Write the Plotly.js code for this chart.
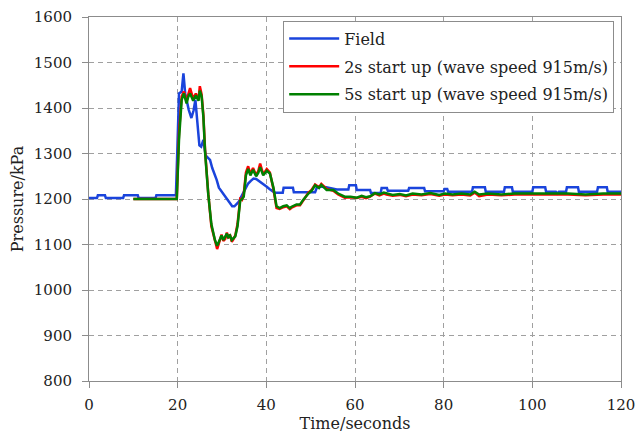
<!DOCTYPE html>
<html>
<head>
<meta charset="utf-8">
<script src="https://cdn.plot.ly/plotly-3.0.1.min.js"></script>
<style>html,body{margin:0;padding:0;background:#fff;}#chart{width:636px;height:437px;}</style>
</head>
<body>
<div id="chart"></div>
<script>
// Field (measured) pressure
const fieldTime = [0,1.8,2.0,3.6,3.8,7.7,7.9,11.0,11.2,15.0,
  15.2,19.6,19.9,20.3,20.9,21.3,21.7,22.1,22.5,23.1,
  23.6,24.0,24.5,24.9,25.3,25.8,26.3,26.8,27.3,27.8,
  28.3,28.8,29.3,29.8,30.3,30.8,31.3,31.8,32.3,32.8,
  33.3,33.8,34.3,34.8,35.3,35.9,36.5,37.1,37.7,38.3,
  38.9,39.5,40.1,40.7,41.3,41.9,43.7,43.9,46.0,46.2,
  51.0,51.5,53.5,55.9,58.5,58.7,60.2,60.4,63.4,63.6,
  65.8,66.0,67.2,67.4,72.0,72.2,75.6,75.8,80.0,80.2,
  80.8,81.0,86.4,86.6,89.3,89.5,93.6,93.8,95.4,95.6,
  100.0,100.2,102.9,103.1,105.3,105.6,106.0,107.6,107.8,110.3,
  110.5,114.6,114.8,116.8,117.0,120.0];
const fieldP = [1202,1202,1208,1208,1202,1202,1208,1208,1202,1202,
  1208,1208,1300,1432,1436,1476,1432,1415,1396,1378,
  1395,1418,1370,1318,1315,1330,1296,1290,1286,1268,
  1256,1242,1225,1218,1212,1204,1196,1190,1184,1184,
  1190,1194,1204,1213,1224,1234,1240,1245,1244,1240,
  1236,1232,1227,1222,1218,1214,1214,1225,1225,1215,
  1215,1228,1226,1221,1221,1230,1230,1220,1220,1213,
  1213,1224,1224,1218,1218,1224,1224,1217,1217,1222,
  1222,1216,1216,1226,1226,1216,1216,1226,1226,1216,
  1216,1226,1226,1216,1216,1212,1216,1216,1226,1226,
  1216,1216,1226,1226,1216,1216];

// Simulations (shared time base)
const simTime = [10,19.8,20.3,20.9,21.4,22.0,22.4,22.8,23.5,24.1,
  24.7,25.0,25.4,25.8,26.2,26.5,26.9,27.6,28.4,28.9,
  29.4,29.9,30.3,30.7,31.1,31.4,31.8,32.2,32.6,33.0,
  33.5,34.1,34.5,34.9,35.4,35.9,36.4,37.0,37.7,38.2,
  38.6,39.3,40.1,40.8,41.6,42.3,43.0,43.8,44.6,45.3,
  45.7,46.8,47.6,48.3,49.5,50.2,51.0,51.9,52.4,53.6,
  55.1,56.2,57.7,59.0,60.4,61.5,62.5,63.4,64.5,65.5,
  66.5,67.1,68.5,70.1,71.5,73.0,75.0,77.0,79.0,80.3,
  82.0,84.0,86.0,87.0,88.0,90.0,93.0,96.0,100.0,104.0,
  108.0,112.0,116.0,120.0];
const start2sP = [1200,1200,1345,1425,1436,1414,1430,1444,1420,1432,
  1418,1448,1430,1385,1305,1262,1212,1140,1105,1090,
  1106,1122,1108,1112,1126,1114,1122,1106,1112,1120,
  1145,1200,1198,1210,1258,1272,1255,1268,1252,1262,
  1278,1254,1266,1258,1222,1180,1178,1182,1184,1178,
  1181,1186,1186,1196,1214,1220,1232,1226,1233,1222,
  1218,1210,1203,1204,1202,1205,1202,1205,1212,1208,
  1212,1210,1207,1209,1206,1210,1208,1211,1207,1210,
  1208,1210,1208,1214,1206,1210,1208,1210,1210,1209,
  1210,1208,1210,1210];
const start5sP = [1200,1200,1330,1418,1432,1410,1425,1432,1416,1428,
  1416,1438,1426,1380,1300,1258,1210,1145,1110,1097,
  1110,1120,1110,1116,1124,1116,1120,1110,1114,1118,
  1140,1196,1200,1205,1252,1266,1252,1264,1250,1258,
  1270,1252,1262,1256,1225,1184,1180,1184,1186,1180,
  1183,1188,1188,1198,1212,1218,1230,1224,1231,1220,
  1220,1212,1205,1205,1203,1207,1204,1206,1213,1210,
  1214,1212,1209,1211,1208,1212,1210,1213,1209,1212,
  1210,1212,1210,1216,1210,1212,1210,1212,1212,1211,
  1212,1210,1212,1212];

const seriesNames = ['Field','2s start up (wave speed 915m/s)','5s start up (wave speed 915m/s)'];
const xTicks = [0,20,40,60,80,100,120];
const yTicks = [800,900,1000,1100,1200,1300,1400,1500,1600];

const FONT = '"DejaVu Serif", serif';
const traces = [
  {x: fieldTime, y: fieldP, name: seriesNames[0], mode: 'lines', legendgroup: 'a',
   line: {color: '#1a44dc', width: 2.5}},
  {x: simTime, y: start2sP, name: seriesNames[1], mode: 'lines', legendgroup: 'b',
   line: {color: '#ff0000', width: 2.5}},
  {x: simTime, y: start5sP, name: seriesNames[2], mode: 'lines', legendgroup: 'c',
   line: {color: '#008000', width: 2.5}}
];
const axisCommon = {
  showline: true, linecolor: '#8c8c8c', linewidth: 1, mirror: true,
  showgrid: true, gridcolor: '#a0a0a0', griddash: '5px,4px', gridwidth: 1,
  zeroline: false, ticks: 'outside', ticklen: 6, tickcolor: '#8c8c8c',
  ticklabeloverflow: 'allow',
  tickfont: {family: FONT, size: 15, color: '#222'}
};
const layout = {
  width: 636, height: 437,
  font: {family: FONT},
  margin: {l: 89, r: 15, t: 17, b: 56},
  paper_bgcolor: '#fff', plot_bgcolor: '#fff',
  showlegend: true,
  xaxis: Object.assign({}, axisCommon, {range: [0,120], tickvals: xTicks, ticklabelstandoff: 4,
    title: {text: 'Time/seconds', font: {family: FONT, size: 16, color: '#222'}, standoff: 0}}),
  yaxis: Object.assign({}, axisCommon, {range: [800,1600], tickvals: yTicks, ticklabelstandoff: 7,
    title: {text: 'Pressure/kPa', font: {family: FONT, size: 16, color: '#222'}, standoff: 6}}),
  legend: {x: 0.365, y: 0.99, xanchor: 'left', yanchor: 'top',
    bgcolor: '#fff', bordercolor: '#8c8c8c', borderwidth: 1,
    font: {family: FONT, size: 16, color: '#222'},
    itemwidth: 50, traceorder: 'grouped', tracegroupgap: 4}
};
Plotly.newPlot('chart', traces, layout, {displayModeBar: false, staticPlot: true});
</script>
</body>
</html>
